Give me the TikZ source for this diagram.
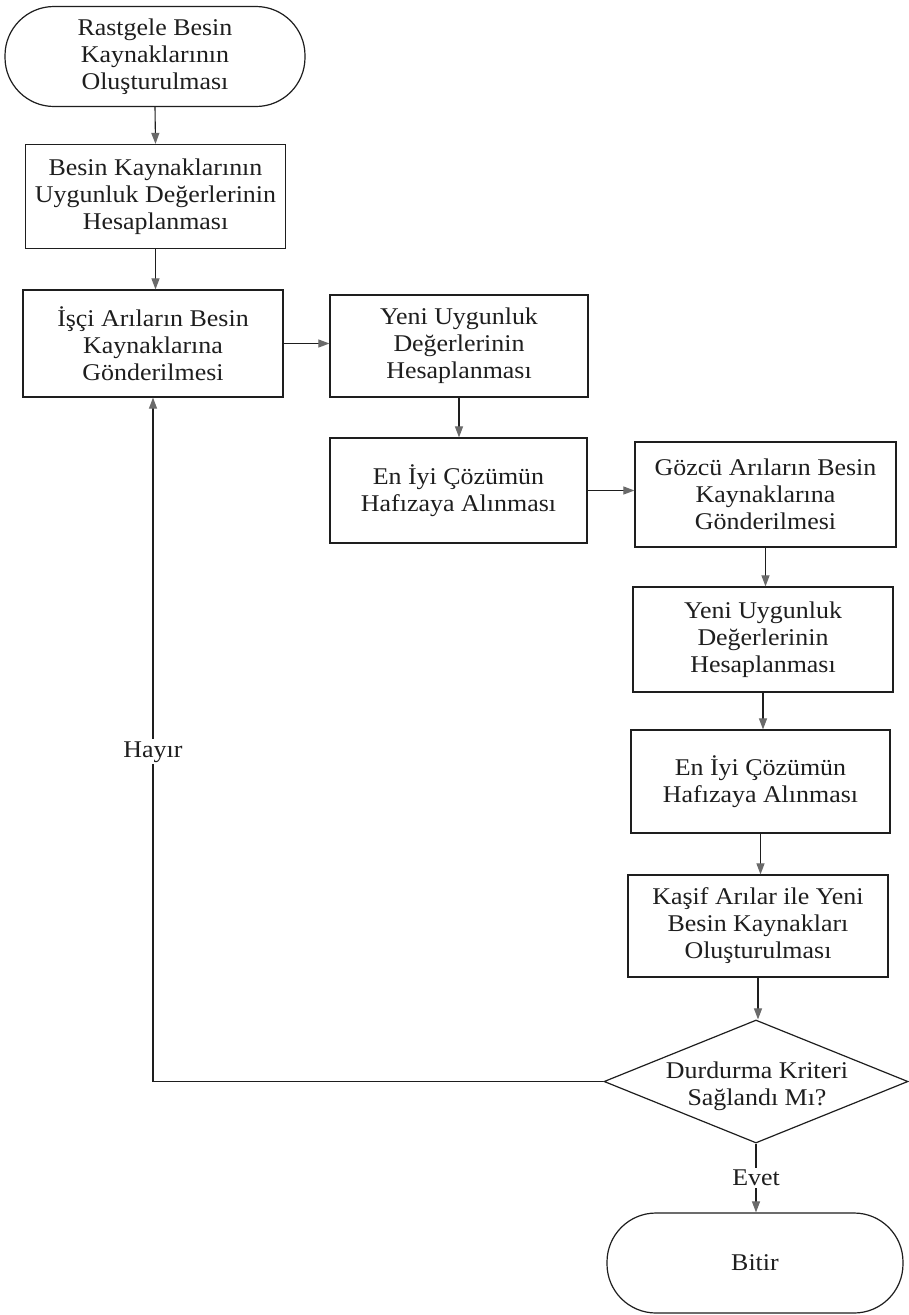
\documentclass[tikz,border=0pt]{standalone}
\usepackage{fontspec}
\setmainfont{Liberation Serif}[FakeStretch=1.08]
\usetikzlibrary{arrows.meta,shapes.geometric}
\definecolor{arrowgray}{HTML}{6A6A6A}
\definecolor{inkc}{HTML}{1E1E1E}
\begin{document}
\begin{tikzpicture}[x=1pt,y=-1pt,
  txt/.style={font=\fontsize{24}{27}\selectfont, text=inkc},
  stepbox/.style={txt, draw=inkc, line width=1.2pt, minimum width=260pt, minimum height=104pt, align=center, inner sep=0pt},
  term/.style={txt, draw=inkc, line width=1.2pt, rounded corners=49pt, minimum width=300pt, minimum height=100pt, align=center, inner sep=0pt},
  conn/.style={draw=inkc, line width=1.1pt, -{Triangle[length=11pt,width=8pt,color=arrowgray]}},
  lbl/.style={txt, fill=white, inner sep=2pt}
]
\useasboundingbox[fill=white] (0,0) rectangle (908,1315);

\node[term] (start) at (155,56.5) {Rastgele Besin\\Kaynaklarının\\Oluşturulması};
\node[stepbox] (b2) at (155.5,196.5) {Besin Kaynaklarının\\Uygunluk Değerlerinin\\Hesaplanması};
\node[stepbox, minimum height=107pt] (b3) at (153,343.5) {İşçi Arıların Besin\\Kaynaklarına\\Gönderilmesi};
\node[stepbox, minimum width=258pt, minimum height=102pt] (b4) at (459,346) {Yeni Uygunluk\\Değerlerinin\\Hesaplanması};
\node[stepbox, minimum width=257pt, minimum height=105pt] (b5) at (458.5,490.5) {En İyi Çözümün\\Hafızaya Alınması};
\node[stepbox, minimum width=261pt, minimum height=105pt] (b6) at (765.5,494.5) {Gözcü Arıların Besin\\Kaynaklarına\\Gönderilmesi};
\node[stepbox, minimum height=105pt] (b7) at (763,639.5) {Yeni Uygunluk\\Değerlerinin\\Hesaplanması};
\node[stepbox, minimum width=259pt, minimum height=103pt] (b8) at (760.5,781.5) {En İyi Çözümün\\Hafızaya Alınması};
\node[stepbox, minimum height=102pt] (b9) at (758,926) {Kaşif Arılar ile Yeni\\Besin Kaynakları\\Oluşturulması};
\node[draw=inkc, line width=1.2pt, shape=diamond, minimum width=304pt, minimum height=123pt, inner sep=0pt] (dia) at (756,1081.5) {};
\node[txt, align=center] (diatext) at (757,1086) {Durdurma Kriteri\\Sağlandı Mı?};
\node[term, minimum width=296pt] (bitir) at (755,1263) {Bitir};

\draw[conn] (start.south) -- (b2.north);
\draw[conn] (b2.south) -- (b2.south |- b3.north);
\draw[conn] (b3.east) -- (b3.east -| b4.west);
\draw[conn] (b4.south) -- (b4.south |- b5.north);
\draw[conn] (b5.east) -- (b5.east -| b6.west);
\draw[conn] (b6.south) -- (b6.south |- b7.north);
\draw[conn] (b7.south) -- (b7.south |- b8.north);
\draw[conn] (b8.south) -- (b8.south |- b9.north);
\draw[conn] (b9.south) -- (b9.south |- dia.north);
\draw[conn] (dia.south) -- node[lbl] (evet) {Evet} (dia.south |- bitir.north);
\draw[conn] (dia.west) -| node[lbl, pos=0.741] (hayir) {Hayır} (b3.south);
\end{tikzpicture}
\end{document}
